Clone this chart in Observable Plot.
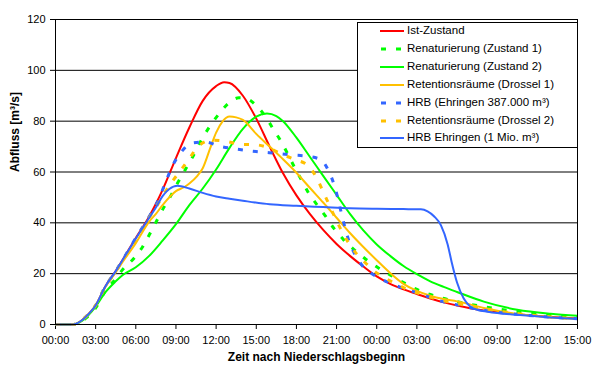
<!DOCTYPE html>
<html><head><meta charset="utf-8">
<script src="https://cdn.jsdelivr.net/npm/d3@7"></script>
<script src="https://cdn.jsdelivr.net/npm/@observablehq/plot@0.6"></script>
<style>
body{margin:0;background:#fff;font-family:"Liberation Sans",Arial,sans-serif;}
#wrap{position:relative;width:604px;height:375px;}
#legend{position:absolute;left:357px;top:22px;width:219px;height:124px;border:1px solid #000;background:#fff;}
.row{position:absolute;left:0;height:18px;width:219px;font-size:11.5px;color:#000;}
.row svg{position:absolute;left:22px;top:0;}
.row span{position:absolute;left:49px;top:2px;white-space:nowrap;}
</style></head><body><div id="wrap"></div>
<script>
// ---- data (hours after rainfall start, discharge m³/s) ----
const seriesNames = ["Ist-Zustand","Renaturierung (Zustand 1)","Renaturierung (Zustand 2)","Retentionsräume (Drossel 1)","HRB (Ehringen 387.000 m³)","Retentionsräume (Drossel 2)","HRB Ehringen (1 Mio. m³)"];

const istH = [0,1.3,2,2.5,3,3.7,4.5,5,6,7,7.5,8,9,10,11,12,12.6,13,14,15,16,17,18,19,20,21,22,23,24,25,26,27,28,29,30,32,34.7,37,39];
const istV = [0,0,1.8,4.3,7.5,14.8,21,25.3,34,42.5,47.5,53,65.5,77.5,88,93.8,95.3,95,90,81,70,59.5,50.8,43.5,37.2,31.7,27,22.8,18.9,16,13.8,12,10.2,8.7,7.5,5.5,3.9,3,2.4];

const ren1H = [0,1.3,2,3,3.7,4.5,5,5.85,6.5,7,7.5,8,8.6,9,9.6,10.2,11,11.8,12.45,13.2,13.7,14.2,15.1,15.7,16.3,16.9,17.4,17.9,18.4,18.9,19.55,20.2,20.8,21.5,22.3,23.2,24,25,26,27,28,30,32,35,39];
const ren1V = [0,0,1.5,6.5,13,18,21.5,26,30.5,35.2,40.2,45.2,50.5,54.5,60,65.5,73.5,80,84.4,88.2,89.2,89,85.6,81.7,76.6,71.6,66.6,61.4,56.6,51.8,47,42.4,37.8,33.5,29.5,25.6,22.7,19.5,16.5,13.8,11.8,9,7,4.8,3];

const ren2H = [0,1.3,2,3,3.7,4.5,5,6,7,8,9,10,11,12,13,14,15,15.8,16.5,17,18,19,20,21,22,23,24,25,26,27,28,29,30,32,34.5,37,39];
const ren2V = [0,0,1.5,7,12.5,17,19.4,22.5,27,33,39.5,47,53.5,61,69.5,77,81.8,83,82,80,73.5,66,58.5,51,43.5,37,31.5,27,23,19.8,17,14.8,12.8,9,5.8,4.2,3.4];

const ret1H = [0,1.3,2,2.5,3,3.7,4.5,5,6,7,7.5,8,9,9.6,10,10.6,11,11.6,12,12.5,13,13.5,14,15,16,17,18,19,20,21,22,23,24,25,26,27,28,29,30,32,34.7,37,39];
const ret1V = [0,0,1.8,4.3,7.5,14.5,20.5,24.5,32,40.5,43.5,47,52.5,54,55.5,58.5,61.5,70,75.5,80,81.8,81.5,80.5,75,70,65,59.7,53.8,48,42,36,30.5,25.3,20.3,16,13.2,11.3,10,9.1,6.5,4,2.8,2.2];

const hrb1H = [0,1.3,2,2.5,3,3.7,4.5,5,6,7,7.5,8,8.34,8.8,9.4,10.2,11.2,12.3,13.4,14.5,15.5,16.6,17.7,18.8,19.8,20.4,20.8,21.1,21.35,21.6,21.9,22.3,22.9,23.7,24.6,25.8,27.3,28.8,30.3,32,34.7,37,39];
const hrb1V = [0,0,1.8,4.3,7.5,14.8,21,25.3,34,42.5,47,53,57.5,63,67.9,71.4,71.8,70.1,69.1,68.3,67.8,67.3,66.7,66.2,64.9,60.5,55.2,49.6,44,38.7,33.2,28.3,23.3,19.8,17.2,14.6,12,9.2,7.4,5.6,3.9,2.9,2.3];

const ret2H = [0,1.3,2,2.5,3,3.7,4.5,5,6,7,7.5,8,8.8,9.4,10.05,10.7,11.7,12.8,13.8,14.8,15.9,16.9,17.9,18.9,19.5,19.95,20.4,20.85,21.3,21.85,22.5,23.2,24,25,26,27,28.5,30,32,35,39];
const ret2V = [0,0,1.8,4.3,7.5,14.6,20.8,25,33,42,46,50.5,56.8,61,65.7,70.3,72.5,72,70.9,70.8,69.6,67,64.9,62.4,57.8,52.8,47.6,42.5,37.6,32.5,27.8,24,20.3,17.2,14.5,12.5,10,8.3,6.2,4,2.3];

const hrb2H = [0,1.3,2,2.5,3,3.7,4.5,5,6,7,7.5,8,8.5,9.1,10,11,12,13,14,16,18,20,22,24,26,27.3,27.8,28.3,28.8,29.3,29.6,30,30.5,31,31.5,32.3,34.7,37,39];
const hrb2V = [0,0,1.8,4.3,7.5,14.8,21,25.3,33.8,42,46,50.5,53.3,54.6,53.5,51.8,50.4,49.5,48.7,47.3,46.7,46.2,45.7,45.5,45.4,45.3,44.5,42.5,39,31.5,24.5,16.5,10.2,7,5.8,5,3.7,2.8,2.2];

const xTicks = [0,3,6,9,12,15,18,21,24,27,30,33,36,39];
const xTickLabels = ["00:00","03:00","06:00","09:00","12:00","15:00","18:00","21:00","00:00","03:00","06:00","09:00","12:00","15:00"];
const yTicks = [0,20,40,60,80,100,120];

// ---- styles ----
const seriesData = [[istH,istV],[ren1H,ren1V],[ren2H,ren2V],[ret1H,ret1V],[hrb1H,hrb1V],[ret2H,ret2V],[hrb2H,hrb2V]];
const styles = [
  {color:"#FF0000", width:2, dash:null},
  {color:"#00FF00", width:3, dash:"5,10"},
  {color:"#00FF00", width:2, dash:null},
  {color:"#FFC000", width:2, dash:null},
  {color:"#3366FF", width:3, dash:"5,10"},
  {color:"#FFC000", width:3, dash:"5,10"},
  {color:"#3366FF", width:2, dash:null}
];

const lineMarks = seriesData.map(([hs, vs], i) =>
  Plot.line(hs.map((h, j) => ({h, v: vs[j]})), {
    x: "h", y: "v", stroke: styles[i].color, strokeWidth: styles[i].width,
    strokeDasharray: styles[i].dash || undefined, strokeLinecap: "butt",
    curve: "monotone-x"
  })
);

const chart = Plot.plot({
  width: 604, height: 375,
  marginLeft: 55, marginRight: 27, marginTop: 19, marginBottom: 51,
  style: {fontFamily: "'Liberation Sans', Arial, sans-serif", fontSize: "11px", background: "#fff", color: "#000"},
  x: {domain: [0, 39], ticks: xTicks, tickFormat: d => xTickLabels[xTicks.indexOf(d)], tickSize: 5, tickPadding: 7, label: null},
  y: {domain: [0, 120], ticks: yTicks, tickSize: 5, tickPadding: 5, label: null},
  marks: [
    Plot.ruleY(yTicks.slice(1), {stroke: "#000", strokeWidth: 1}),
    ...lineMarks,
    Plot.frame({stroke: "#000", strokeWidth: 1}),
    Plot.text(["Zeit nach Niederschlagsbeginn"], {frameAnchor: "bottom", dy: 36, fontWeight: "bold", fontSize: 12}),
    Plot.text(["Abfluss [m³/s]"], {frameAnchor: "left", dx: -40, rotate: -90, fontWeight: "bold", fontSize: 12})
  ]
});
const wrap = document.getElementById("wrap");
wrap.appendChild(chart);

// ---- legend ----
const legend = document.createElement("div");
legend.id = "legend";
seriesNames.forEach((name, i) => {
  const row = document.createElement("div");
  row.className = "row";
  row.style.top = (-1 + i * 17.9) + "px";
  const s = styles[i];
  row.innerHTML = `<svg width="26" height="18"><line x1="0" x2="24" y1="9" y2="9" stroke="${s.color}" stroke-width="${s.width}" ${s.dash ? `stroke-dasharray="5,10" stroke-dashoffset="-1"` : ""}/></svg><span></span>`;
  row.querySelector("span").textContent = name;
  legend.appendChild(row);
});
wrap.appendChild(legend);
</script>
</body></html>
